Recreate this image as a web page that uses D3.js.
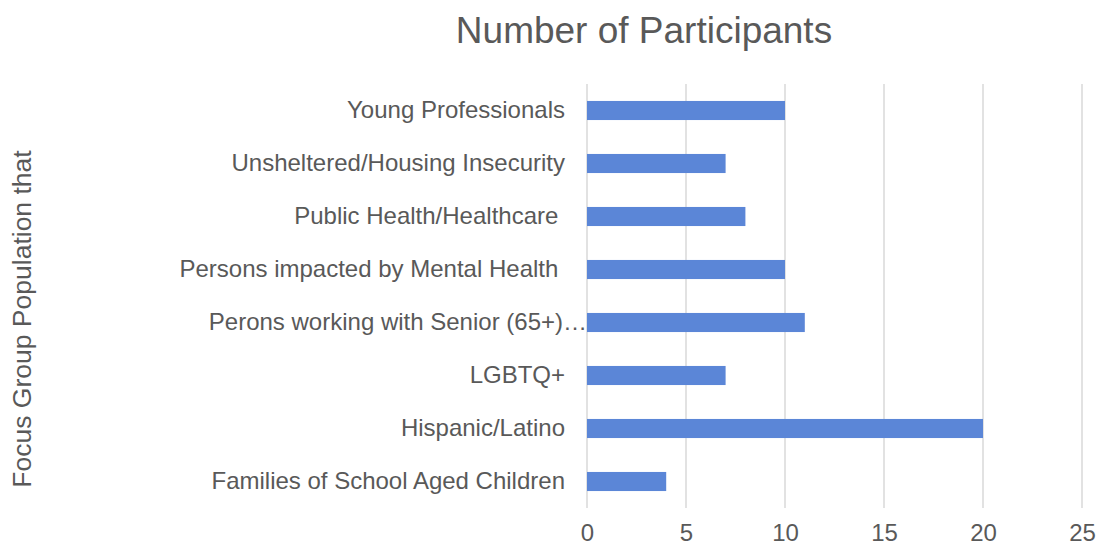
<!DOCTYPE html>
<html><head><meta charset="utf-8">
<script src="https://cdn.jsdelivr.net/npm/d3@7"></script>
<style>body{margin:0;background:#fff}svg{display:block}text{font-family:"Liberation Sans",Arial,sans-serif;fill:#595959;white-space:pre}</style>
</head><body>
<svg id="c" width="1099" height="546"></svg>
<script>
const categories = ["Young Professionals","Unsheltered/Housing Insecurity","Public Health/Healthcare ","Persons impacted by Mental Health ","Perons working with Senior (65+)\u2026","LGBTQ+","Hispanic/Latino","Families of School Aged Children"];
const values = [10,7,8,10,11,7,20,4];
const xTicks = [0,5,10,15,20,25];
const title = "Number of Participants";
const yTitle = "Focus Group Population that";

const svg = d3.select("#c");
const x = d3.scaleLinear().domain([0,25]).range([587,1082]);
const y = d3.scaleBand().domain(categories).range([84,508]).paddingInner(0.64).paddingOuter(0.32);

svg.append("g").selectAll("line").data(xTicks).join("line")
  .attr("x1",d=>x(d)).attr("x2",d=>x(d)).attr("y1",84).attr("y2",508)
  .attr("stroke","#d9d9d9").attr("stroke-width",1.5);

svg.append("g").selectAll("rect").data(values).join("rect")
  .attr("x",x(0)).attr("y",(d,i)=>y(categories[i]))
  .attr("width",d=>x(d)-x(0)).attr("height",y.bandwidth())
  .attr("fill","#5B86D7");

const xa = svg.append("g").attr("transform","translate(0,508)")
  .call(d3.axisBottom(x).tickValues(xTicks).tickSize(0).tickPadding(16));
xa.select(".domain").remove();
xa.selectAll("text").attr("font-size",24).style("font-family","Liberation Sans, Arial, sans-serif").attr("fill","#595959");

const ya = svg.append("g").attr("transform","translate(565,0)")
  .call(d3.axisLeft(y).tickSize(0).tickPadding(0));
ya.select(".domain").remove();
ya.selectAll("text").attr("font-size",24).style("font-family","Liberation Sans, Arial, sans-serif")
  .style("white-space","pre").attr("fill","#595959")
  .attr("x",d=>d.endsWith("\u2026")?22:0);

svg.append("text").attr("x",644).attr("y",43).attr("text-anchor","middle")
  .attr("font-size",37).text(title);

svg.append("text").attr("transform","translate(31,319) rotate(-90)").attr("text-anchor","middle")
  .attr("font-size",26.5).text(yTitle);
</script>
</body></html>
